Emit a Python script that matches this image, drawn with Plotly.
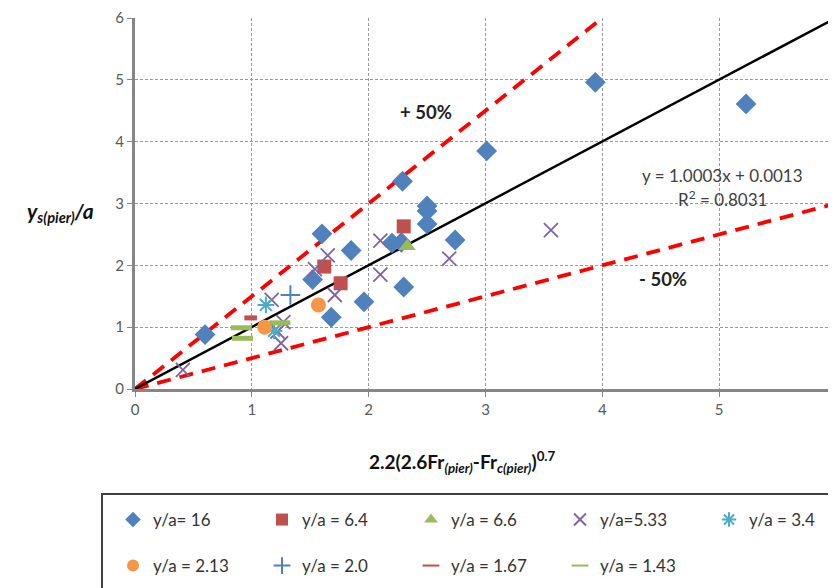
import plotly.graph_objects as go

# ---------------- data ----------------
x_16 = [0.60, 1.60, 1.52, 1.85, 1.96, 1.68, 2.29, 2.50, 2.50, 2.50, 2.20, 2.28, 2.30, 2.74, 3.01, 3.94, 5.23]
y_16 = [0.88, 2.51, 1.77, 2.24, 1.41, 1.16, 3.36, 2.96, 2.88, 2.67, 2.36, 2.37, 1.65, 2.41, 3.85, 4.96, 4.61]

x_64 = [1.62, 1.76, 2.30]
y_64 = [1.98, 1.71, 2.63]

x_66 = [2.33]
y_66 = [2.31]

x_533 = [0.41, 1.17, 1.27, 1.22, 1.25, 1.54, 1.65, 1.71, 2.10, 2.10, 2.69, 3.56]
y_533 = [0.31, 1.44, 1.08, 0.93, 0.74, 1.94, 2.16, 1.52, 2.40, 1.85, 2.11, 2.57]

x_34 = [1.12, 1.19]
y_34 = [1.36, 0.94]

x_213 = [1.11, 1.57]
y_213 = [1.00, 1.36]

x_20 = [1.33]
y_20 = [1.52]

x_167 = [0.99]
y_167 = [1.15]

x_143 = [0.91, 0.92, 1.24]
y_143 = [0.99, 0.82, 1.07]

trend_slope = 1.0003
trend_intercept = 0.0013
band_upper = 1.5
band_lower = 0.5
x_ticks = [0, 1, 2, 3, 4, 5, 6]
y_ticks = [0, 1, 2, 3, 4, 5, 6]

FONT = "Lato, 'Open Sans', sans-serif"
BLUE = "#4F81BD"
RED = "#C0504D"
GREEN = "#9BBB59"
PURPLE = "#8064A2"
TEAL = "#4BACC6"
ORANGE = "#F79646"

fig = go.Figure()

# reference lines
fig.add_trace(go.Scatter(x=[0, 4], y=[0, 4 * band_upper], mode="lines",
                         line=dict(color="#FF0000", width=3.8, dash="14px,9px"),
                         showlegend=False, hoverinfo="skip"))
fig.add_trace(go.Scatter(x=[0, 6], y=[0, 6 * band_lower], mode="lines",
                         line=dict(color="#FF0000", width=3.8, dash="14px,9px"),
                         showlegend=False, hoverinfo="skip"))
fig.add_trace(go.Scatter(x=[0, 6], y=[trend_intercept, trend_slope * 6 + trend_intercept], mode="lines",
                         line=dict(color="black", width=2.5),
                         showlegend=False, hoverinfo="skip"))

def add(xs, ys, name, symbol, color, size, legend, lw=0, lc=None):
    mk = dict(symbol=symbol, color=color, size=size)
    if lw:
        mk["line"] = dict(width=lw, color=lc or color)
    fig.add_trace(go.Scatter(x=xs, y=ys, mode="markers", name=name, marker=mk, legend=legend))

add(x_16, y_16, "y/a= 16", "diamond", BLUE, 16, "legend")
add(x_64, y_64, "y/a = 6.4", "square", RED, 14, "legend")
add(x_66, y_66, "y/a = 6.6", "triangle-up", GREEN, 15, "legend")
add(x_533, y_533, "y/a=5.33", "x-thin", PURPLE, 14, "legend", lw=1.8)
add(x_34, y_34, "y/a = 3.4", "asterisk", TEAL, 14, "legend", lw=2)
add(x_213, y_213, "y/a = 2.13", "circle", ORANGE, 15, "legend2")
add(x_20, y_20, "y/a = 2.0", "cross-thin", BLUE, 14, "legend2", lw=2)
add(x_167, y_167, "y/a = 1.67", "line-ew", RED, 9, "legend2", lw=5)
add(x_143, y_143, "y/a = 1.43", "line-ew", GREEN, 15, "legend2", lw=5)

# page has an 8px body margin: figure is drawn at screen offset (8, 8)
OFF = 8
W, H = 836 - OFF, 588 - OFF
L, R, T, B = 135 - OFF, 0, 18 - OFF, H - (389 - OFF)
pw, ph = W - L - R, H - T - B

def px(xs):   # screen x -> paper
    return (xs - OFF - L) / pw

def py(ys):   # screen y -> paper
    return (H - B - (ys - OFF)) / ph

axis_common = dict(
    showline=True, linecolor="#868686", linewidth=3,
    ticks="outside", ticklen=5, tickcolor="#868686", tickwidth=1,
    showgrid=True, gridcolor="#999999", griddash="3px,2px", gridwidth=1,
    zeroline=False, automargin=False,
    tickfont=dict(family=FONT, size=15, color="#595959"),
)

LEG_X = 113
leg_common = dict(orientation="h", xanchor="left", yanchor="middle", itemsizing="constant",
                  entrywidth=104, entrywidthmode="pixels", bgcolor="rgba(0,0,0,0)",
                  font=dict(family=FONT, size=17, color="#333333"), itemclick=False)
fig.update_layout(
    width=W, height=H,
    margin=dict(l=L, r=R, t=T, b=B, autoexpand=False),
    paper_bgcolor="white", plot_bgcolor="white",
    font=dict(family=FONT),
    xaxis=dict(range=[0, 6], tickvals=x_ticks, **axis_common),
    yaxis=dict(range=[0, 6], tickvals=y_ticks, **axis_common),
    legend=dict(x=px(LEG_X), y=py(520), **leg_common),
    legend2=dict(x=px(LEG_X), y=py(566), **leg_common),
    shapes=[dict(type="rect", xref="paper", yref="paper",
                 x0=px(102), x1=px(845), y0=py(600), y1=py(494),
                 line=dict(color="#404040", width=2), fillcolor="rgba(0,0,0,0)")],
)

ann = [
    dict(x=px(426), y=py(112), text="<b>+ 50%</b>", font=dict(size=18.5, color="#222")),
    dict(x=px(663), y=py(279), text="<b>- 50%</b>", font=dict(size=18.5, color="#222")),
    dict(x=px(722), y=py(175), text="y = 1.0003x + 0.0013", font=dict(size=17, color="#404040")),
    dict(x=px(722), y=py(198), text="R<sup>2</sup> = 0.8031", font=dict(size=17, color="#404040")),
    dict(x=px(60), y=py(212), text="<b><i>y<sub>s(pier)</sub>/a</i></b>", font=dict(size=21, color="#111")),
    dict(x=px(462), y=py(462),
         text="<b>2.2(2.6Fr<sub><i>(pier)</i></sub>-Fr<sub><i>c(pier)</i></sub>)<sup>0.7</sup></b>",
         font=dict(size=19, color="#111")),
]
for a in ann:
    a.update(xref="paper", yref="paper", showarrow=False, xanchor="center", yanchor="middle")
    a["font"]["family"] = FONT
fig.update_layout(annotations=ann)

fig.write_html("out.html")
